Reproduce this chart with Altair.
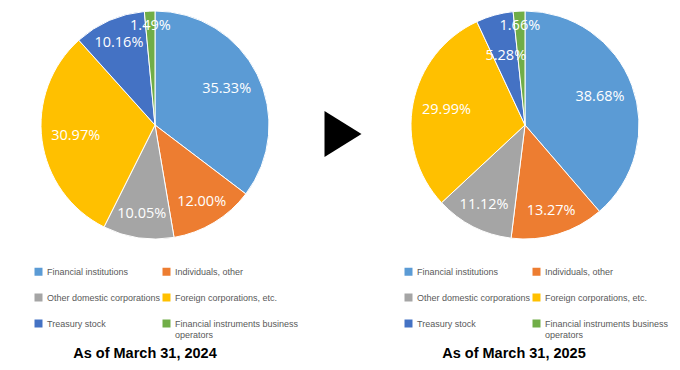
import altair as alt
import pandas as pd

categories = [
    "Financial institutions",
    "Individuals, other",
    "Other domestic corporations",
    "Foreign corporations, etc.",
    "Treasury stock",
    "Financial instruments business operators",
]
share_2024 = [35.33, 12.00, 10.05, 30.97, 10.16, 1.49]
share_2025 = [38.68, 13.27, 11.12, 29.99, 5.28, 1.66]
titles = ["As of March 31, 2024", "As of March 31, 2025"]
colors = ["#5B9BD5", "#ED7D31", "#A5A5A5", "#FFC000", "#4472C4", "#70AD47"]

LABEL_EXPR = (
    "datum.label == 'Financial instruments business operators' ? "
    "['Financial instruments business', 'operators'] : datum.label"
)

# label ring per slice size
TIERS = [
    ("datum.value < 3", 99),
    ("datum.value >= 3 && datum.value < 8", 72),
    ("datum.value >= 8 && datum.value < 20", 90),
    ("datum.value >= 20", 80),
]


def frame(values):
    return pd.DataFrame(
        {"category": categories, "value": values, "order": list(range(len(categories)))}
    )


def pie(values, cx, cy, lx, ly):
    df = frame(values)
    arc = (
        alt.Chart(df)
        .mark_arc(outerRadius=114, stroke="white", strokeWidth=1)
        .encode(
            theta=alt.Theta("value:Q", stack=True),
            order=alt.Order("order:Q"),
            x=alt.value(cx),
            y=alt.value(cy),
            color=alt.Color(
                "category:N",
                sort=categories,
                scale=alt.Scale(domain=categories, range=colors),
                legend=alt.Legend(
                    title=None,
                    orient="none",
                    direction="horizontal",
                    legendX=lx,
                    legendY=ly,
                    columns=2,
                    symbolType="square",
                    symbolSize=64,
                    symbolStrokeWidth=0,
                    symbolOpacity=1,
                    labelFont="Liberation Sans",
                    labelFontSize=9,
                    labelColor="#595959",
                    labelOffset=4,
                    labelLimit=300,
                    rowPadding=16,
                    columnPadding=1,
                    padding=0,
                    labelExpr=LABEL_EXPR,
                ),
            ),
        )
    )
    lab_base = (
        alt.Chart(df)
        .transform_window(cum="sum(value)", sort=[alt.SortField("order")], frame=[None, 0])
        .transform_joinaggregate(total="sum(value)")
        .transform_calculate(
            mid="(datum.cum - datum.value / 2) / datum.total",
            label="format(datum.value, '.2f') + '%'",
        )
    )
    texts = []
    for cond, r in TIERS:
        texts.append(
            lab_base.transform_filter(cond)
            .mark_text(
                radius=r, fill="white", fontSize=14.5, font="Open Sans", align="center", baseline="middle"
            )
            .encode(
                theta=alt.Theta("mid:Q", scale=alt.Scale(domain=[0, 1])),
                text="label:N",
                x=alt.value(cx),
                y=alt.value(cy),
            )
        )
    return [arc] + texts


layers1 = pie(share_2024, 147, 117, 26, 259)
layers2 = pie(share_2025, 517, 117, 396, 259)

arrow = (
    alt.Chart(pd.DataFrame({"arrow": [1]}))
    .mark_point(
        shape="M -1 -1.24 L 1 0 L -1 1.24 Z",
        filled=True,
        color="black",
        opacity=1,
        size=1369,
        strokeWidth=0,
    )
    .encode(x=alt.value(335), y=alt.value(126))
)

title_df = pd.DataFrame({"title": titles})


def title_layer(i, x):
    return (
        alt.Chart(title_df)
        .transform_filter(alt.datum.title == titles[i])
        .mark_text(font="Liberation Sans", fontSize=14.5, fontWeight="bold", color="black")
        .encode(text="title:N", x=alt.value(x), y=alt.value(346))
    )


chart = (
    alt.layer(*layers1, *layers2, arrow, title_layer(0, 137), title_layer(1, 506))
    .resolve_scale(color="independent", theta="independent")
    .properties(width=664, height=354, padding=0, autosize=alt.AutoSizeParams(type="none"))
    .configure_view(stroke=None)
)

chart.save("out.html", embed_options={"renderer": "svg", "actions": False})
